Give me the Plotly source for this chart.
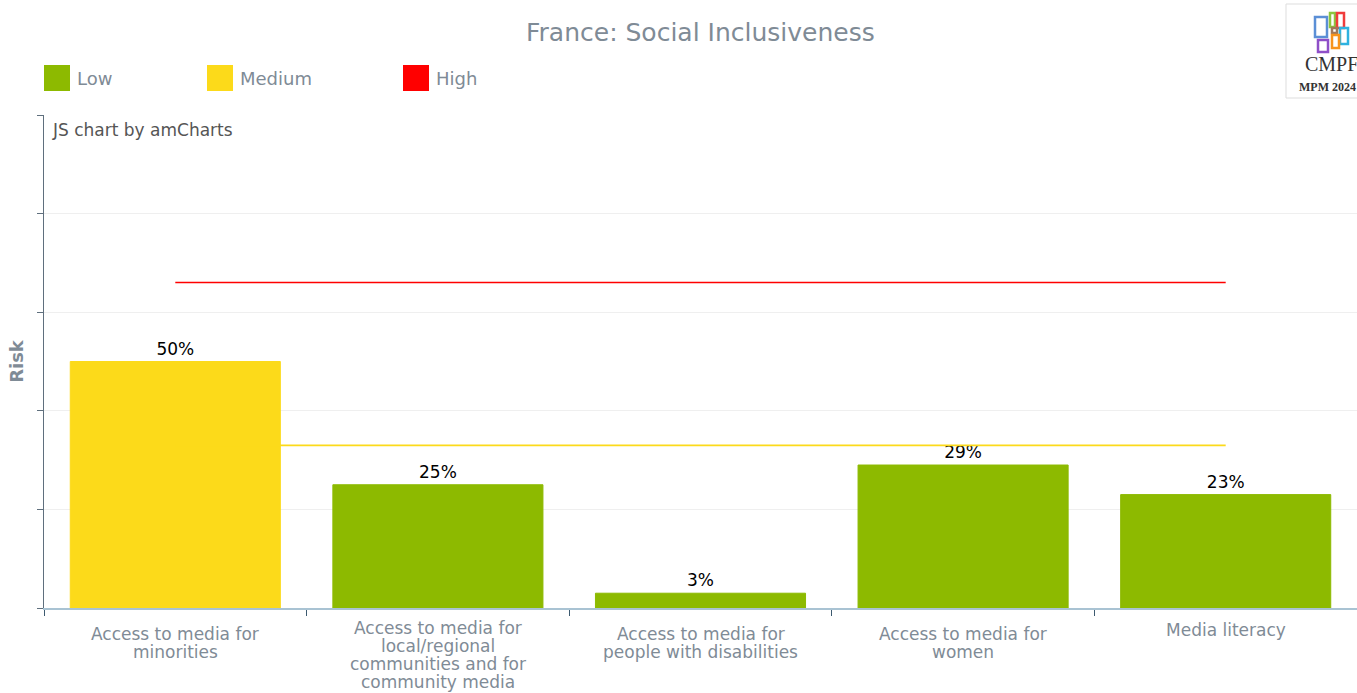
import plotly.graph_objects as go

# Indicator scores (percent risk) for France, social inclusiveness area
categories = [
    "Access to media for<br>minorities",
    "Access to media for<br>local/regional<br>communities and for<br>community media",
    "Access to media for<br>people with disabilities",
    "Access to media for<br>women",
    "Media literacy",
]
risk_values = [50, 25, 3, 29, 23]
risk_levels = ["Medium", "Low", "Low", "Low", "Low"]

# Thresholds between risk bands
medium_threshold = 33
high_threshold = 66

level_colors = {"Low": "#8DBA00", "Medium": "#FCDA1A", "High": "#FF0000"}
legend_levels = ["Low", "Medium", "High"]

W, H = 1357, 693
L, R, T, B = 44, 0, 115, 85
PW, PH = W - L - R, H - T - B


def px(x):
    return (x - L) / PW


def py(y):
    return (H - B - y) / PH


FONT = "Verdana, DejaVu Sans, sans-serif"
GREY = "#7f8b96"

fig = go.Figure()

# Threshold lines (drawn beneath the bars)
fig.add_trace(go.Scatter(
    x=[categories[0], categories[-1]], y=[high_threshold, high_threshold],
    mode="lines", line=dict(color="#FF0000", width=1.5), hoverinfo="skip", showlegend=False))
fig.add_trace(go.Scatter(
    x=[categories[0], categories[-1]], y=[medium_threshold, medium_threshold],
    mode="lines", line=dict(color="#FCDA1A", width=1.8), hoverinfo="skip", showlegend=False))

fig.add_trace(go.Bar(
    x=categories, y=risk_values,
    marker=dict(color=[level_colors[l] for l in risk_levels],
                line=dict(color=[level_colors[l] for l in risk_levels], width=1)),
    text=[f"{v}%" for v in risk_values], textposition="outside",
    textfont=dict(family=FONT, size=17, color="#000000"),
    cliponaxis=False, showlegend=False,
))

fig.update_layout(
    width=W, height=H,
    margin=dict(l=L, r=R, t=T, b=B, autoexpand=False),
    paper_bgcolor="white", plot_bgcolor="white",
    bargap=0.2,
    font=dict(family=FONT, color=GREY),
    xaxis=dict(
        type="category", range=[-0.5, 4.5],
        categoryorder="array", categoryarray=categories,
        automargin=False,
        showline=True, linecolor="#A9C3D3", linewidth=1.5,
        ticks="outside", tickson="boundaries", ticklen=6, tickcolor="#3d5a70",
        showticklabels=False,
        showgrid=False,
    ),
    yaxis=dict(
        range=[0, 100], dtick=20,
        automargin=False,
        showline=True, linecolor="#5f6f7d", linewidth=1,
        ticks="outside", ticklen=6, tickcolor="#5f6f7d",
        showticklabels=False,
        showgrid=True, gridcolor="#EFEFEF", gridwidth=1,
        zeroline=False,
        title=dict(text="<b>Risk</b>", font=dict(family=FONT, size=18, color=GREY), standoff=8),
    ),
)

annotations = [
    dict(text="France: Social Inclusiveness", x=0.5, y=py(32), xref="paper", yref="paper",
         xanchor="center", yanchor="middle", showarrow=False,
         font=dict(family=FONT, size=25, color=GREY)),
    dict(text="JS chart by amCharts", x=px(50), y=py(130), xref="paper", yref="paper",
         xanchor="left", yanchor="middle", showarrow=False,
         font=dict(family=FONT, size=17, color="#555555")),
]

# Category labels under the axis, one line at a time for tighter line spacing
LINE_STEP = 18
for cat in categories:
    lines = cat.split("<br>")
    first = {1: 630, 2: 634}.get(len(lines), 628)
    for i, line in enumerate(lines):
        annotations.append(dict(
            text=line, x=cat, xref="x", y=0, yref="paper",
            yshift=-(first + i * LINE_STEP - (H - B)),
            xanchor="center", yanchor="middle", showarrow=False,
            font=dict(family=FONT, size=17, color=GREY)))

shapes = []

# Legend: colour squares with level names
legend_x = [44, 207, 403]
for lvl, lx in zip(legend_levels, legend_x):
    shapes.append(dict(type="rect", xref="paper", yref="paper",
                       x0=px(lx), x1=px(lx + 26), y0=py(91), y1=py(65),
                       fillcolor=level_colors[lvl], line=dict(width=0)))
    annotations.append(dict(text=lvl, x=px(lx + 31), y=py(78), xref="paper", yref="paper",
                            xanchor="left", yanchor="middle", showarrow=False,
                            font=dict(family=FONT, size=18, color=GREY)))

# Logo box in the top-right corner
shapes.append(dict(type="rect", xref="paper", yref="paper",
                   x0=px(1286), x1=px(1362), y0=py(98), y1=py(4),
                   fillcolor="white", line=dict(color="#DDDDDD", width=1)))
logo_blocks = [
    (1315, 1327, 17, 37, "#5B8FD6"),
    (1330, 1335, 13, 27, "#8DC63F"),
    (1337, 1344, 13, 28, "#F03C3C"),
    (1332, 1337, 28, 33, "#A0785A"),
    (1340, 1348, 28, 44, "#2EB2E0"),
    (1332, 1339, 35, 48, "#F7941D"),
    (1318, 1328, 40, 52, "#8E4FC8"),
]
for x0, x1, y0, y1, c in logo_blocks:
    shapes.append(dict(type="rect", xref="paper", yref="paper",
                       x0=px(x0), x1=px(x1), y0=py(y1), y1=py(y0),
                       fillcolor="rgba(255,255,255,0)", line=dict(color=c, width=2.5)))
annotations.append(dict(text="CMPF", x=px(1303), y=py(64), xref="paper", yref="paper",
                        xanchor="left", yanchor="middle", showarrow=False,
                        font=dict(family="Liberation Serif, serif", size=20, color="#333333")))
annotations.append(dict(text="<b>MPM 2024</b>", x=px(1297), y=py(87), xref="paper", yref="paper",
                        xanchor="left", yanchor="middle", showarrow=False,
                        font=dict(family="Liberation Serif, serif", size=12, color="#333333")))

fig.update_layout(annotations=annotations, shapes=shapes)

fig.write_html("out.html")
